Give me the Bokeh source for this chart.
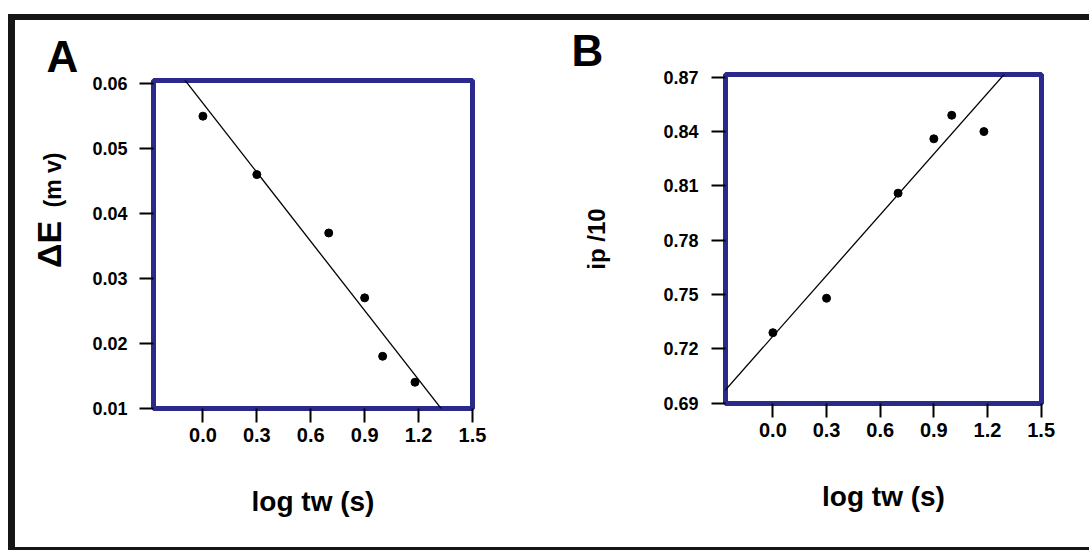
import numpy as np
from bokeh.plotting import figure
from bokeh.layouts import row, column
from bokeh.models import FixedTicker, PrintfTickFormatter, Div, Title, LinearAxis
from bokeh.embed import file_html
from bokeh.resources import INLINE

# ---------------- data ----------------
log_tw = [0.0, 0.3, 0.7, 0.9, 1.0, 1.18]
delta_E = [0.055, 0.046, 0.037, 0.027, 0.018, 0.014]
ip_10 = [0.729, 0.748, 0.806, 0.836, 0.849, 0.840]

fitA_slope, fitA_intercept = -0.0355, 0.057
fitB_slope, fitB_intercept = 0.1118, 0.727

x_ticks = [0.0, 0.3, 0.6, 0.9, 1.2, 1.5]
yA_ticks = [0.01, 0.02, 0.03, 0.04, 0.05, 0.06]
yB_ticks = [0.69, 0.72, 0.75, 0.78, 0.81, 0.84, 0.87]

FONT = "Liberation Sans"
NAVY = "#2b2a8c"
FRAME = "#161616"
H = 527


def style(p, yfmt):
    p.outline_line_color = NAVY
    p.outline_line_width = 5
    p.xgrid.visible = False
    p.ygrid.visible = False
    for ax in (p.xaxis[0], p.yaxis[0]):
        ax.axis_line_color = None
        ax.major_tick_out = 14
        ax.major_tick_in = 0
        ax.major_tick_line_width = 2
        ax.major_tick_line_color = "black"
        ax.minor_tick_line_color = None
        ax.major_label_text_font = FONT
        ax.major_label_text_font_style = "bold"
        ax.major_label_text_color = "black"
        ax.major_label_standoff = 5
        ax.axis_label_text_font = FONT
        ax.axis_label_text_font_style = "bold"
        ax.axis_label_text_color = "black"
    p.xaxis[0].ticker = FixedTicker(ticks=x_ticks)
    p.xaxis[0].formatter = PrintfTickFormatter(format="%.1f")
    p.xaxis[0].major_label_text_font_size = "20px"
    p.yaxis[0].formatter = PrintfTickFormatter(format=yfmt)
    p.yaxis[0].major_label_text_font_size = "18px"
    p.xaxis[0].axis_label = "log tw (s)"
    p.xaxis[0].axis_label_text_font_size = "28px"
    p.xaxis[0].axis_label_standoff = 41


# ---------------- panel A ----------------
pA = figure(width=530, height=H, x_range=(-0.275, 1.5), y_range=(0.00995, 0.0605),
            min_border_left=138, min_border_right=73, min_border_top=60,
            min_border_bottom=139, toolbar_location=None, output_backend="svg",
            background_fill_color="white", border_fill_color="white")
style(pA, "%.2f")
pA.yaxis[0].ticker = FixedTicker(ticks=yA_ticks)
pA.yaxis[0].major_label_standoff = 12
pA.yaxis[0].axis_label = "ΔE"
pA.yaxis[0].axis_label_text_font_size = "34px"
pA.yaxis[0].axis_label_standoff = 21
# thin empty strip between frame and panel letter
pA.add_layout(LinearAxis(ticker=FixedTicker(ticks=[]), major_tick_out=7, major_tick_in=0,
                         major_label_standoff=0, axis_line_color=None,
                         minor_tick_line_color=None), "above")
pA.title = Title(text="A", align="left", offset=-107, standoff=0, text_color="black",
                 text_font=FONT, text_font_style="bold", text_font_size="44px")
pA.add_layout(Title(text="(m v)", align="right", offset=72, vertical_align="bottom",
                    standoff=-76, text_color="black", text_font=FONT,
                    text_font_style="bold", text_font_size="23px"), "left")

xs = np.array([-0.4, 1.7])
pA.line(xs, fitA_intercept + fitA_slope * xs, line_color="black", line_width=1.3)
pA.scatter(log_tw, delta_E, size=8, color="black")

# ---------------- panel B ----------------
pB = figure(width=544, height=H, x_range=(-0.265, 1.502), y_range=(0.6899, 0.8715),
            min_border_left=180, min_border_right=48, min_border_top=54,
            min_border_bottom=144, toolbar_location=None, output_backend="svg",
            background_fill_color="white", border_fill_color="white")
style(pB, "%.2f")
pB.yaxis[0].ticker = FixedTicker(ticks=yB_ticks)
pB.yaxis[0].major_label_standoff = 13
pB.yaxis[0].axis_label = "ip /10"
pB.yaxis[0].axis_label_text_font_size = "24px"
pB.yaxis[0].axis_label_standoff = 50
pB.title = Title(text="B", align="left", offset=-154, standoff=0, text_color="black",
                 text_font=FONT, text_font_style="bold", text_font_size="44px")

pB.line(xs, fitB_intercept + fitB_slope * xs, line_color="black", line_width=1.3)
pB.scatter(log_tw, ip_10, size=8, color="black")

black = {"background-color": FRAME}
layout = column(
    Div(width=1081, height=6, margin=(14, 0, 0, 8), styles=black),
    row(Div(width=7, height=H, margin=(0, 0, 0, 8), styles=black),
        pA, column(pB, spacing=0), spacing=0),
    Div(width=1081, height=3, margin=(0, 0, 0, 8), styles=black),
    spacing=0,
)

open("out.html", "w").write(file_html(layout, INLINE))
